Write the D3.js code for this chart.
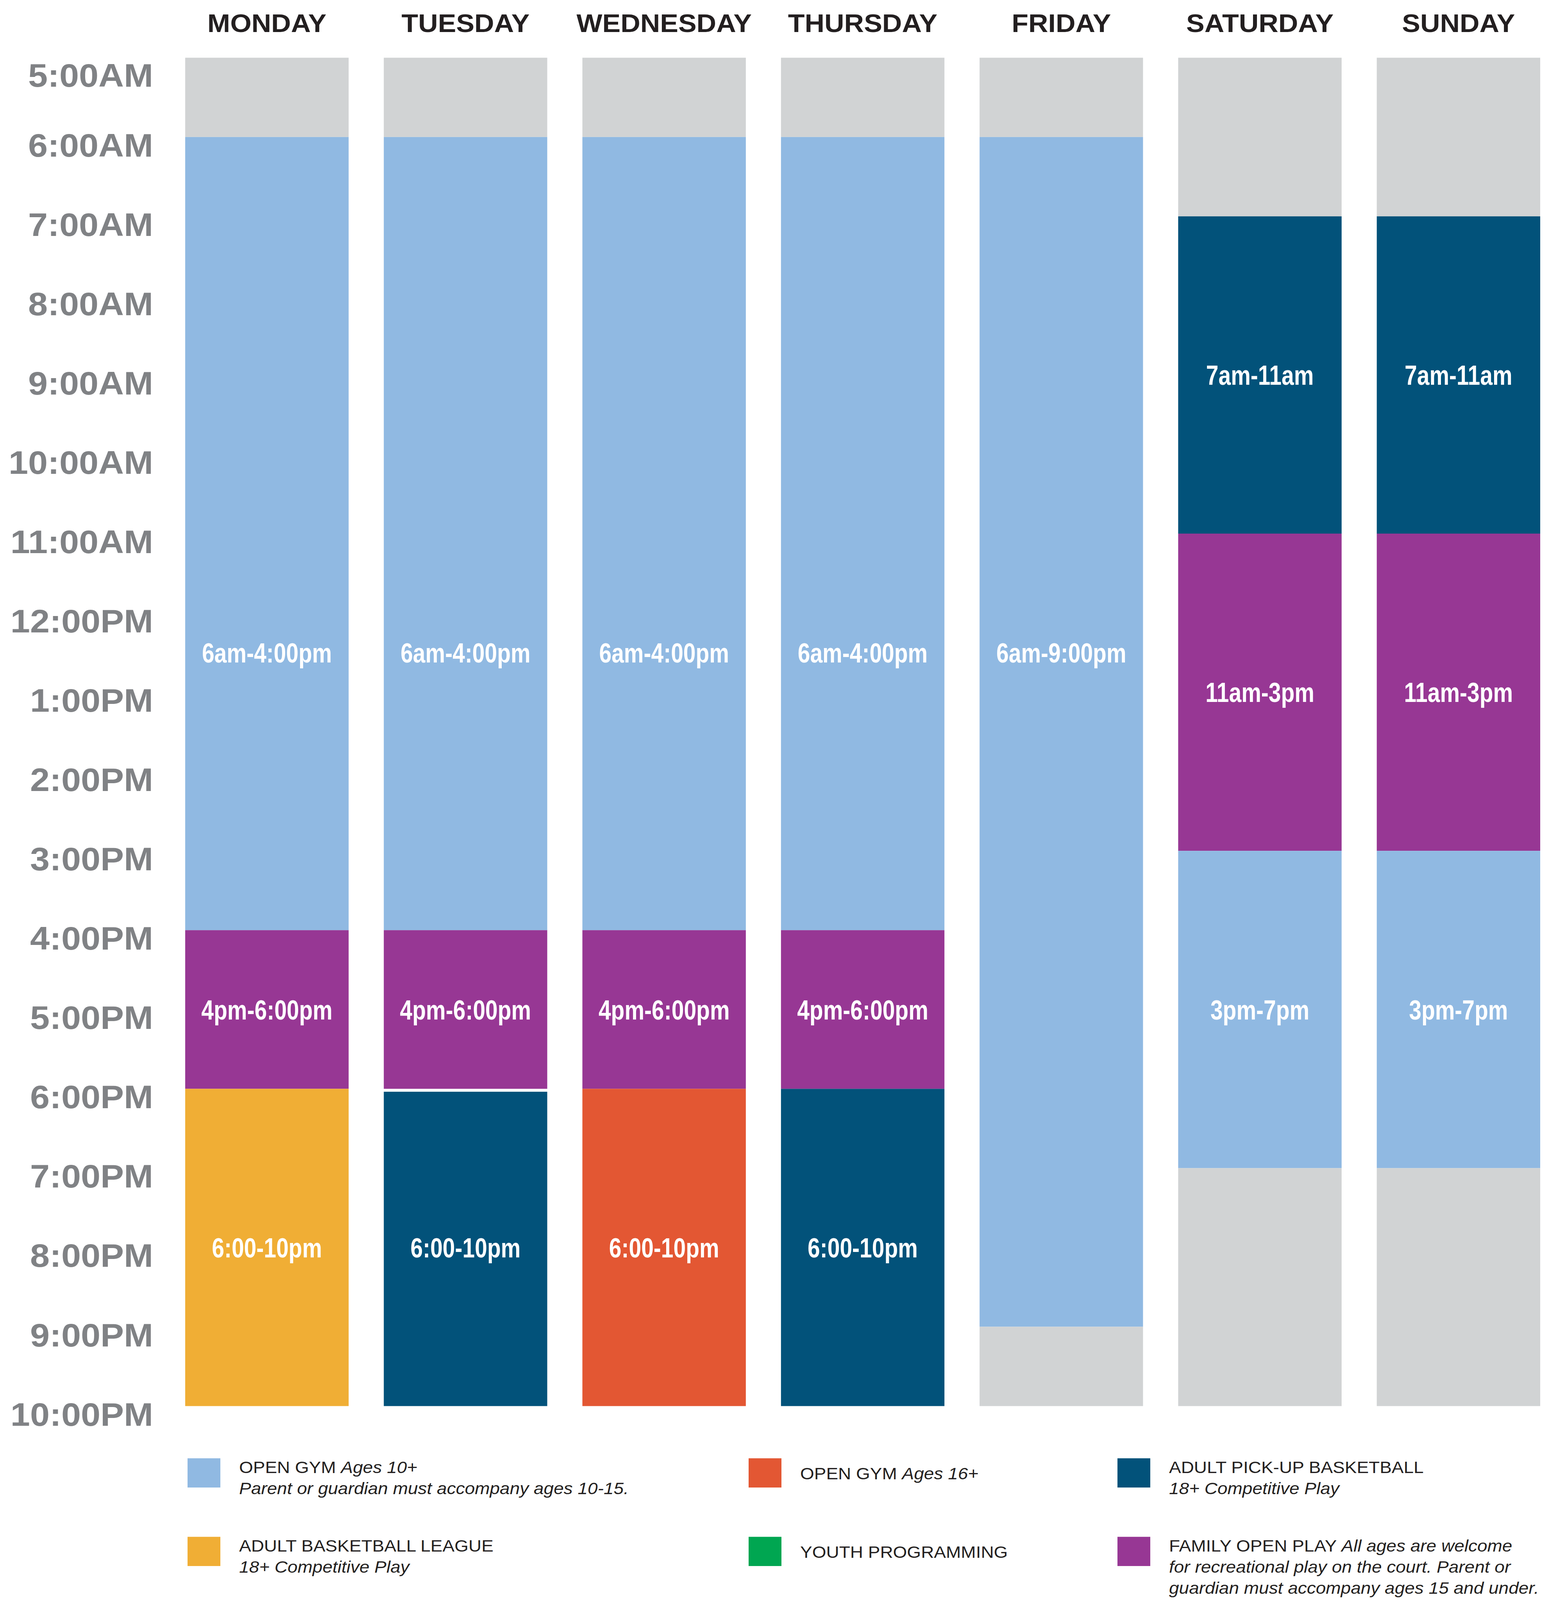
<!DOCTYPE html>
<html>
<head>
<meta charset="utf-8">
<script src="https://cdn.jsdelivr.net/npm/d3@7"></script>
<style>
  html, body { margin: 0; padding: 0; background: #fff; overflow: hidden; }
  svg { display: block; width: 100vw; height: 100vh; font-family: "Liberation Sans", Arial, Helvetica, sans-serif; }
</style>
</head>
<body>
<div id="chart"></div>
<script>
// schedule data
const days = ['MONDAY', 'TUESDAY', 'WEDNESDAY', 'THURSDAY', 'FRIDAY', 'SATURDAY', 'SUNDAY'];

const hourTicks = [5, 6, 7, 8, 9, 10, 11, 12, 13, 14, 15, 16, 17, 18, 19, 20, 21, 22];
const hourLabels = ['5:00AM', '6:00AM', '7:00AM', '8:00AM', '9:00AM', '10:00AM', '11:00AM',
  '12:00PM', '1:00PM', '2:00PM', '3:00PM', '4:00PM', '5:00PM', '6:00PM', '7:00PM',
  '8:00PM', '9:00PM', '10:00PM'];

const categories = ['closed', 'openGym10', 'openGym16', 'pickup', 'league', 'youth', 'family'];
const categoryColors = ['#d1d3d4', '#90b9e2', '#e35733', '#02527a', '#f0ae35', '#00a651', '#973794'];

// one block per day and time range; labelAt = hour where the text sits (null = centre)
const segments = [
  { day: 'MONDAY', start: 5, end: 6, cat: 'closed', label: '' },
  { day: 'MONDAY', start: 6, end: 16, cat: 'openGym10', label: '6am-4:00pm', labelAt: 12.5 },
  { day: 'MONDAY', start: 16, end: 18, cat: 'family', label: '4pm-6:00pm' },
  { day: 'MONDAY', start: 18, end: 22, cat: 'league', label: '6:00-10pm' },
  { day: 'TUESDAY', start: 5, end: 6, cat: 'closed', label: '' },
  { day: 'TUESDAY', start: 6, end: 16, cat: 'openGym10', label: '6am-4:00pm', labelAt: 12.5 },
  { day: 'TUESDAY', start: 16, end: 18, cat: 'family', label: '4pm-6:00pm' },
  { day: 'TUESDAY', start: 18, end: 22, cat: 'pickup', label: '6:00-10pm', gap: true },
  { day: 'WEDNESDAY', start: 5, end: 6, cat: 'closed', label: '' },
  { day: 'WEDNESDAY', start: 6, end: 16, cat: 'openGym10', label: '6am-4:00pm', labelAt: 12.5 },
  { day: 'WEDNESDAY', start: 16, end: 18, cat: 'family', label: '4pm-6:00pm' },
  { day: 'WEDNESDAY', start: 18, end: 22, cat: 'openGym16', label: '6:00-10pm' },
  { day: 'THURSDAY', start: 5, end: 6, cat: 'closed', label: '' },
  { day: 'THURSDAY', start: 6, end: 16, cat: 'openGym10', label: '6am-4:00pm', labelAt: 12.5 },
  { day: 'THURSDAY', start: 16, end: 18, cat: 'family', label: '4pm-6:00pm' },
  { day: 'THURSDAY', start: 18, end: 22, cat: 'pickup', label: '6:00-10pm' },
  { day: 'FRIDAY', start: 5, end: 6, cat: 'closed', label: '' },
  { day: 'FRIDAY', start: 6, end: 21, cat: 'openGym10', label: '6am-9:00pm', labelAt: 12.5 },
  { day: 'FRIDAY', start: 21, end: 22, cat: 'closed', label: '' },
  { day: 'SATURDAY', start: 5, end: 7, cat: 'closed', label: '' },
  { day: 'SATURDAY', start: 7, end: 11, cat: 'pickup', label: '7am-11am' },
  { day: 'SATURDAY', start: 11, end: 15, cat: 'family', label: '11am-3pm' },
  { day: 'SATURDAY', start: 15, end: 19, cat: 'openGym10', label: '3pm-7pm' },
  { day: 'SATURDAY', start: 19, end: 22, cat: 'closed', label: '' },
  { day: 'SUNDAY', start: 5, end: 7, cat: 'closed', label: '' },
  { day: 'SUNDAY', start: 7, end: 11, cat: 'pickup', label: '7am-11am' },
  { day: 'SUNDAY', start: 11, end: 15, cat: 'family', label: '11am-3pm' },
  { day: 'SUNDAY', start: 15, end: 19, cat: 'openGym10', label: '3pm-7pm' },
  { day: 'SUNDAY', start: 19, end: 22, cat: 'closed', label: '' }
];

// legend: each line is a list of [text, italic]
const legendItems = [
  { cat: 'openGym10', col: 0, row: 0, lines: [[['OPEN GYM ', false], ['Ages 10+', true]], [['Parent or guardian must accompany ages 10-15.', true]]] },
  { cat: 'openGym16', col: 1, row: 0, lines: [[['OPEN GYM ', false], ['Ages 16+', true]]] },
  { cat: 'pickup', col: 2, row: 0, lines: [[['ADULT PICK-UP BASKETBALL', false]], [['18+ Competitive Play', true]]] },
  { cat: 'league', col: 0, row: 1, lines: [[['ADULT BASKETBALL LEAGUE', false]], [['18+ Competitive Play', true]]] },
  { cat: 'youth', col: 1, row: 1, lines: [[['YOUTH PROGRAMMING', false]]] },
  { cat: 'family', col: 2, row: 1, lines: [[['FAMILY OPEN PLAY ', false], ['All ages are welcome', true]], [['for recreational play on the court. Parent or', true]], [['guardian must accompany ages 15 and under.', true]]] }
];

const width = 4008, height = 4381;

// drawn in a 4008x4381 frame, stretched to fill the viewport
const svg = d3.select('#chart').append('svg')
  .attr('viewBox', `0 0 ${width} ${height}`)
  .attr('preserveAspectRatio', 'none');

const x = d3.scaleBand().domain(days).range([474, 3942]).paddingInner(0.177).paddingOuter(0);
const y = d3.scaleLinear().domain([5, 22]).range([158, 3850]);
const color = d3.scaleOrdinal().domain(categories).range(categoryColors);

// day headers
svg.append('g').attr('class', 'days')
  .selectAll('text')
  .data(days)
  .join('text')
  .attr('x', d => x(d) + x.bandwidth() / 2)
  .attr('y', 88)
  .attr('text-anchor', 'middle')
  .style('font-weight', 700)
  .style('font-size', '70px')
  .style('fill', '#231f20')
  .text(d => d);

// hour labels
svg.append('g').attr('class', 'hours')
  .selectAll('text')
  .data(hourTicks)
  .join('text')
  .attr('x', 392)
  .attr('y', d => Math.max(y(d) + 22, y(5) + 48))
  .attr('dy', '0.35em')
  .attr('text-anchor', 'end')
  .style('font-weight', 700)
  .style('font-size', '90px')
  .style('fill', '#808285')
  .text((d, i) => hourLabels[i]);

// blocks
svg.append('g').attr('class', 'blocks')
  .selectAll('rect')
  .data(segments)
  .join('rect')
  .attr('x', d => x(d.day))
  .attr('y', d => y(d.start) + (d.gap ? 8 : 0))
  .attr('width', x.bandwidth())
  .attr('height', d => y(d.end) - y(d.start) - (d.gap ? 8 : 0))
  .attr('fill', d => color(d.cat));

// block labels (condensed bold look)
svg.append('g').attr('class', 'block-labels')
  .selectAll('text')
  .data(segments.filter(d => d.label))
  .join('text')
  .attr('transform', d => {
    const cy = y(d.labelAt != null ? d.labelAt : (d.start + d.end) / 2);
    return `translate(${x(d.day) + x.bandwidth() / 2},${cy + 27}) scale(0.76,1)`;
  })
  .attr('text-anchor', 'middle')
  .style('font-weight', 700)
  .style('font-size', '75px')
  .style('fill', '#fff')
  .text(d => d.label);

// legend
const legendCols = [480, 1916, 2860];
const legendRows = [3993, 4208];

const legend = svg.append('g').attr('class', 'legend')
  .selectAll('g')
  .data(legendItems)
  .join('g')
  .attr('transform', d => `translate(${legendCols[d.col]},${legendRows[d.row]})`);

legend.append('rect')
  .attr('width', 84)
  .attr('height', 80)
  .attr('fill', d => color(d.cat));

legend.each(function (d) {
  const g = d3.select(this);
  const first = d.lines.length === 1 ? 57 : 40;
  d.lines.forEach((line, li) => {
    const t = g.append('text')
      .attr('x', 132)
      .attr('y', first + li * 58)
      .style('font-size', '46px')
      .style('fill', '#231f20');
    line.forEach(([s, it]) => {
      t.append('tspan')
        .style('font-style', it ? 'italic' : 'normal')
        .text(s);
    });
  });
});
</script>
</body>
</html>
